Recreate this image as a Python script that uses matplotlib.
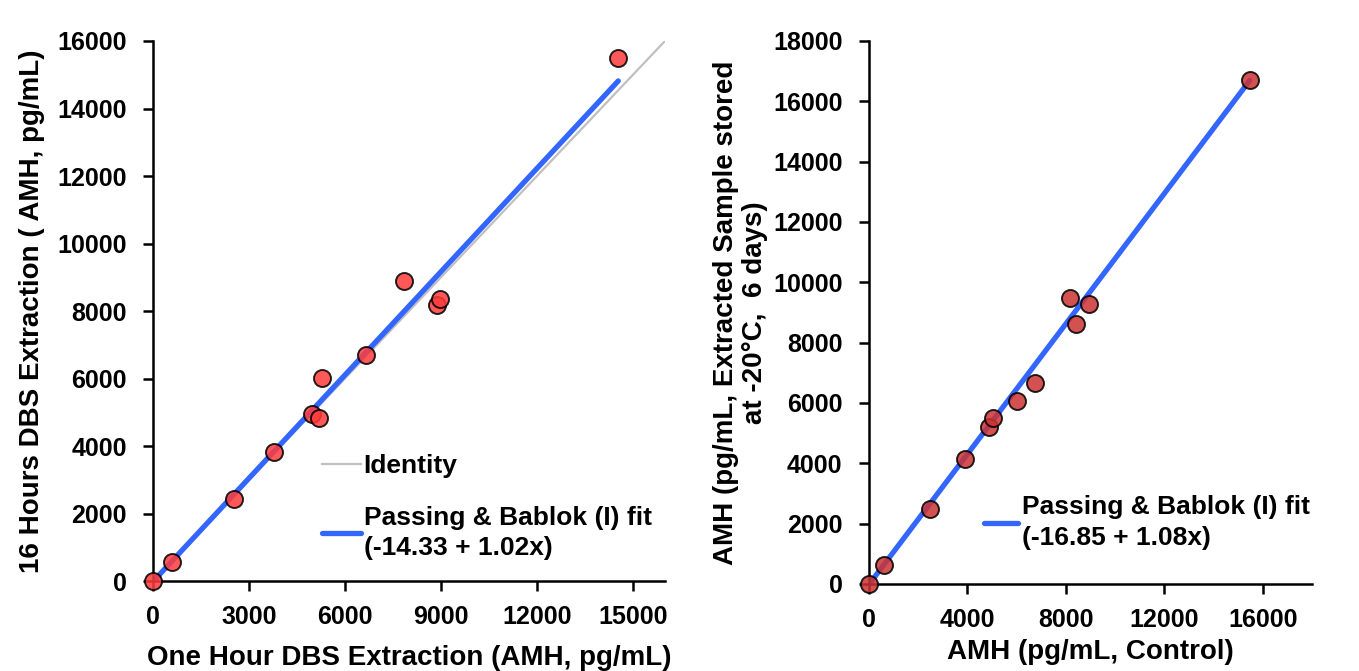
import matplotlib.pyplot as plt
import numpy as np

plt.rcParams['font.family'] = ['Liberation Sans', 'DejaVu Sans']
plt.rcParams['font.weight'] = 'bold'

# Panel izquierdo: 1 h vs 16 h de extracción
x_izq = [0, 600, 2520, 3790, 4980, 5200, 5270, 6660, 7850, 8860, 8960, 14540]
y_izq = [0, 560, 2430, 3820, 4950, 4830, 6010, 6700, 8890, 8180, 8360, 15500]
a_izq, b_izq = -14.33, 1.02

# Panel derecho: control vs almacenado a -20°C
x_der = [0, 607, 2470, 3890, 4860, 5020, 6030, 6760, 8180, 8420, 8950, 15470]
y_der = [0, 630, 2490, 4140, 5200, 5500, 6070, 6660, 9480, 8620, 9280, 16700]
a_der, b_der = -16.85, 1.08

azul = "#3366FF"
fs_tick = 18
fs_lab = 20
fs_leg = 19

fig = plt.figure(figsize=(13.59, 6.71), dpi=100)
ax1 = fig.add_axes([0.1126, 0.1341, 0.3767, 0.8048])
ax2 = fig.add_axes([0.6394, 0.1297, 0.3260, 0.8092])

def estilo(ax):
    for s in ["top", "right"]:
        ax.spines[s].set_visible(False)
    for s in ["left", "bottom"]:
        ax.spines[s].set_linewidth(1.8)
    ax.tick_params(direction="out", length=7, width=1.8, labelsize=fs_tick)
    ax.tick_params(axis="y", pad=12)
    ax.tick_params(axis="x", pad=10)
    for lab in ax.get_xticklabels() + ax.get_yticklabels():
        lab.set_fontweight("bold")

# --- izquierdo ---
ident = np.array([0, 16000])
ax1.plot(ident, ident, color="#C0C0C0", lw=1.6, label="Identity", zorder=1)
xf = np.array([0, max(x_izq)])
ax1.plot(xf, a_izq + b_izq * xf, color=azul, lw=3.8, solid_capstyle="round",
         label=f"Passing & Bablok (I) fit\n({a_izq} + {b_izq}x)", zorder=2)
ax1.scatter(x_izq, y_izq, s=150, color="#FF3B3B", alpha=0.85,
            edgecolors="black", linewidths=1.4, zorder=3, clip_on=False)
ax1.set_xlim(0, 16000)
ax1.set_ylim(0, 16000)
ax1.set_xticks(np.arange(0, 15001, 3000))
ax1.set_yticks(np.arange(0, 16001, 2000))
ax1.set_xlabel("One Hour DBS Extraction (AMH, pg/mL)", fontsize=fs_lab, fontweight="bold", labelpad=12)
ax1.set_ylabel("16 Hours DBS Extraction ( AMH, pg/mL)", fontsize=fs_lab, fontweight="bold", labelpad=9)
leg1 = ax1.legend(loc="upper left", bbox_to_anchor=(0.31, 0.255), frameon=False,
                  fontsize=fs_leg, handlelength=1.45, handletextpad=0.12, labelspacing=1.05,
                  borderaxespad=0)
for t in leg1.get_texts():
    t.set_linespacing(1.35)
estilo(ax1)

# --- derecho ---
xf = np.array([0, max(x_der)])
ax2.plot(xf, a_der + b_der * xf, color=azul, lw=3.8, solid_capstyle="round",
         label=f"Passing & Bablok (I) fit\n({a_der} + {b_der}x)", zorder=2)
ax2.scatter(x_der, y_der, s=150, color="#CC3333", alpha=0.85,
            edgecolors="black", linewidths=1.4, zorder=3, clip_on=False)
ax2.set_xlim(0, 18000)
ax2.set_ylim(0, 18000)
ax2.set_xticks(np.arange(0, 16001, 4000))
ax2.set_yticks(np.arange(0, 18001, 2000))
ax2.set_xlabel("AMH (pg/mL, Control)", fontsize=fs_lab, fontweight="bold", labelpad=5)
ax2.set_ylabel("AMH (pg/mL, Extracted Sample stored\nat -20°C,  6 days)", fontsize=fs_lab,
               fontweight="bold", labelpad=4, linespacing=1.15)
leg2 = ax2.legend(loc="upper left", bbox_to_anchor=(0.236, 0.183), frameon=False,
                  fontsize=fs_leg, handlelength=1.3, handletextpad=0.12, borderaxespad=0)
for t in leg2.get_texts():
    t.set_linespacing(1.35)
estilo(ax2)

fig.savefig("out.png", dpi=100)
